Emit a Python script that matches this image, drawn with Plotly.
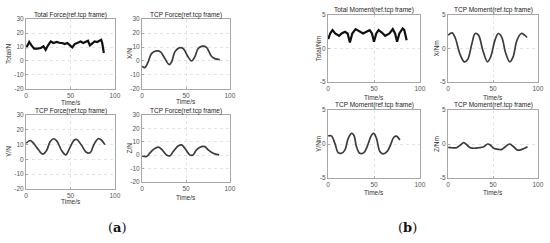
import plotly.graph_objects as go

W, H = 550, 243

# ---------------- data ----------------
time_ticks = [0, 50, 100]
force_ticks = [-20, -10, 0, 10, 20, 30]
moment_ticks = [-5, 0, 5]

total_force_t = [0, 3.4, 6, 9, 12.7, 16.5, 19.5, 22, 24.7, 27.7, 30.7, 34.5, 38.2, 40.8, 43.4, 46.4,
                 49.4, 52, 54.7, 57.7, 61.4, 64.4, 67, 69.7, 71.9, 74.5, 77.2, 80.1, 83.1, 84.6, 85.8, 87.6]
total_force = [9.3, 13.6, 11.2, 8.8, 8.8, 9.3, 10.5, 8.0, 11.2, 14, 12.9, 13.6, 12.9, 12.9, 12.1, 12.9,
               11.2, 9.8, 12.1, 12.9, 14, 12.9, 13.6, 14.5, 11.2, 12.9, 14, 13.6, 14.5, 15.2, 12.9, 5.7]

x_force_t = [0, 3, 6.8, 10.6, 16.3, 20.9, 25.9, 30.8, 33.5, 37.3, 42.2, 46.8, 51.3, 56.3, 60, 63.9,
             68.8, 73.4, 79, 82.9, 88.6]
x_force = [-3.9, -4.8, -0.7, 5.3, 7.2, 6.5, 1.7, -2.6, -0.7, 6.5, 9.4, 8.9, 4.1, 0, 2.9, 8.9,
           10.6, 9.7, 3.4, 1.7, 1.0]

y_force_t = [0, 4.5, 8.2, 13.9, 18.7, 23, 27, 30.7, 34.5, 40, 44.6, 49.4, 54, 57, 62.5, 67.4,
             72, 76.8, 81.3, 85, 88.8]
y_force = [11.0, 12.8, 11.0, 6.5, 3.5, 6.0, 12.0, 14.0, 12.5, 6.0, 3.0, 8.0, 13.0, 13.5, 9.5, 5.0,
           4.5, 10.5, 14.0, 13.0, 10.0]

z_force_t = [0, 5, 8.7, 13.3, 18.3, 22, 27.8, 31.6, 35.4, 41, 44.9, 48.7, 54.4, 58, 62, 67.7,
             71.5, 75.3, 81, 87.8]
z_force = [-0.5, -1, 1.5, 4.5, 6, 4.5, 0.2, -0.5, 2.7, 6.9, 7.7, 5.2, 0.2, 0.2, 4, 6.4,
           6.4, 4, 1.5, 0.2]

total_moment_t = [0, 2.2, 4.7, 7.6, 11.9, 14.7, 18.3, 21.2, 23.7, 26.3, 29.9, 33.5, 38.1, 41.7, 45.3,
                  47.8, 50, 52.5, 55, 58.6, 62.2, 66.9, 70.5, 73, 75.2, 77.7, 81.3, 83.1, 85.6]
total_moment = [1.4, 2.25, 2.75, 2.25, 1.9, 2.25, 2.5, 2.25, 0.9, 2.25, 2.9, 2.6, 2.25, 2.5, 2.75,
                2.25, 1.0, 2.25, 2.75, 2.4, 1.9, 2.25, 2.9, 2.25, 1.0, 2.25, 3.0, 2.75, 1.25]

x_moment_t = [0, 4.4, 8.1, 12.9, 18, 21.7, 26.5, 30.1, 33.8, 38.6, 43.8, 47.4, 52.2, 55.9, 59.6,
              64.3, 68.8, 72.4, 76.8, 81.6, 85.3, 87.9]
x_moment = [2, 2.35, 1.5, -0.75, -2, -1.65, 0.75, 2.25, 2, -0.25, -2, -1.25, 1.25, 2.25, 1.75,
            -0.75, -2, -1.25, 1.25, 2.25, 2, 1.65]

y_moment_t = [0, 3.6, 7.3, 10.9, 14.5, 18.2, 21.8, 25.5, 28, 30.9, 34.5, 38.9, 42.5, 47.3, 49.8,
              52.7, 56.4, 60, 64.4, 68, 71.6, 74.5, 78.2]
y_moment = [1.2, 1.2, 0.1, -1.27, -1.37, -0.9, 0.8, 1.56, 1.3, -0.4, -1.37, -1.27, -0.4, 1.3, 1.56,
            0.83, -1.1, -1.46, -1.1, -0.15, 1.0, 1.17, 0.6]

z_moment_t = [0, 4.4, 9.3, 13.7, 17.4, 21, 24.8, 29.3, 34, 39.6, 44, 47, 50.7, 56.3, 60, 63.7,
              68.5, 73, 77.4, 82.2, 88.5]
z_moment = [-0.5, -0.55, -0.55, -0.15, 0.2, -0.15, -0.55, -0.63, -0.55, -0.4, 0, -0.15, -0.63,
            -0.8, -0.8, -0.4, 0, -0.4, -0.9, -0.8, -0.4]

titles = ["Total Force(ref.tcp frame)", "TCP Force(ref.tcp frame)", "TCP Force(ref.tcp frame)",
          "TCP Force(ref.tcp frame)", "Total Moment(ref.tcp frame)", "TCP Moment(ref.tcp frame)",
          "TCP Moment(ref.tcp frame)", "TCP Moment(ref.tcp frame)"]
ylabels = ["Total/N", "X/N", "Y/N", "Z/N", "Total/Nm", "X/Nm", "Y/Nm", "Z/Nm"]
xlabel = "Time/s"

# ---------------- layout geometry (pixels) ----------------
# (x0, x1, y_top, y_bottom, title_y, xlabel_y, ylabel_x)
boxes = [
    (26, 115, 19, 89, 15, 102, 8),
    (142, 230, 19, 89, 15, 101, 129),
    (26, 115, 115, 189, 111, 201, 8),
    (142, 230, 115, 182, 111, 197, 129),
    (328, 420, 15, 82, 10, 97, 318),
    (448, 538, 15, 82, 10, 97, 436),
    (328, 420, 110, 178, 105, 192, 318),
    (448, 538, 110, 178, 105, 192, 436),
]

series = [
    (total_force_t, total_force, True),
    (x_force_t, x_force, False),
    (y_force_t, y_force, False),
    (z_force_t, z_force, False),
    (total_moment_t, total_moment, True),
    (x_moment_t, x_moment, False),
    (y_moment_t, y_moment, False),
    (z_moment_t, z_moment, False),
]

FONT = "Liberation Sans, Arial, sans-serif"
fig = go.Figure()
annotations = []
layout = dict(template="none", width=W, height=H, margin=dict(l=0, r=0, t=0, b=0, pad=0),
              paper_bgcolor="white", plot_bgcolor="white", showlegend=False,
              font=dict(family=FONT, size=6, color="#444"))

for i, ((t, v, is_total), (x0, x1, yt, yb, ty, xly, ylx)) in enumerate(zip(series, boxes)):
    n = i + 1
    xa = "x" if n == 1 else f"x{n}"
    ya = "y" if n == 1 else f"y{n}"
    if is_total:
        line = dict(color="#111111", width=2.2, shape="linear")
    else:
        line = dict(color="#3c3c3c", width=1.7, shape="spline", smoothing=1.0)
    fig.add_trace(go.Scatter(x=t, y=v, mode="lines", line=line, xaxis=xa, yaxis=ya,
                             hoverinfo="skip"))
    is_force = i < 4
    yticks = force_ticks if is_force else moment_ticks
    eps = (yticks[-1] - yticks[0]) * 0.002
    axcommon = dict(showline=True, linecolor="#a8a8a8", linewidth=1, mirror=True,
                    ticks="inside", ticklen=2, tickcolor="#a8a8a8", automargin=False,
                    ticklabeloverflow="allow",
                    showgrid=True, gridcolor="#e3e3e3", gridwidth=1, griddash="dot",
                    zeroline=False, tickfont=dict(size=6.5, color="#555", family=FONT))
    layout["xaxis" if n == 1 else f"xaxis{n}"] = dict(
        domain=[x0 / W, x1 / W], anchor=ya, range=[-0.2, 100.2], tickvals=time_ticks,
        ticktext=[str(k) for k in time_ticks], **axcommon)
    layout["yaxis" if n == 1 else f"yaxis{n}"] = dict(
        domain=[1 - yb / H, 1 - yt / H], anchor=xa,
        range=[yticks[0] - eps, yticks[-1] + eps], tickvals=yticks,
        ticktext=[str(k) for k in yticks], **axcommon)
    cx = (x0 + x1) / 2
    cy = (yt + yb) / 2
    annotations.append(dict(text=titles[i], x=cx / W, y=1 - ty / H, xref="paper", yref="paper",
                            xanchor="center", yanchor="middle", showarrow=False,
                            font=dict(size=6.5, color="#222", family=FONT)))
    annotations.append(dict(text=xlabel, x=cx / W, y=1 - xly / H, xref="paper", yref="paper",
                            xanchor="center", yanchor="middle", showarrow=False,
                            font=dict(size=6.5, color="#333", family=FONT)))
    annotations.append(dict(text=ylabels[i], x=ylx / W, y=1 - cy / H, xref="paper", yref="paper",
                            xanchor="center", yanchor="middle", showarrow=False, textangle=-90,
                            font=dict(size=6.5, color="#333", family=FONT)))

annotations.append(dict(text="(<b>a</b>)", x=117 / W, y=1 - 227 / H, xref="paper", yref="paper",
                        xanchor="center", yanchor="middle", showarrow=False,
                        font=dict(size=13, color="#111", family="DejaVu Serif, serif")))
annotations.append(dict(text="(<b>b</b>)", x=407 / W, y=1 - 227 / H, xref="paper", yref="paper",
                        xanchor="center", yanchor="middle", showarrow=False,
                        font=dict(size=13, color="#111", family="DejaVu Serif, serif")))
layout["annotations"] = annotations
fig.update_layout(**layout)
fig.write_html("out.html", config={"displayModeBar": False, "staticPlot": True},
               post_script="document.body.style.margin='0px';")
